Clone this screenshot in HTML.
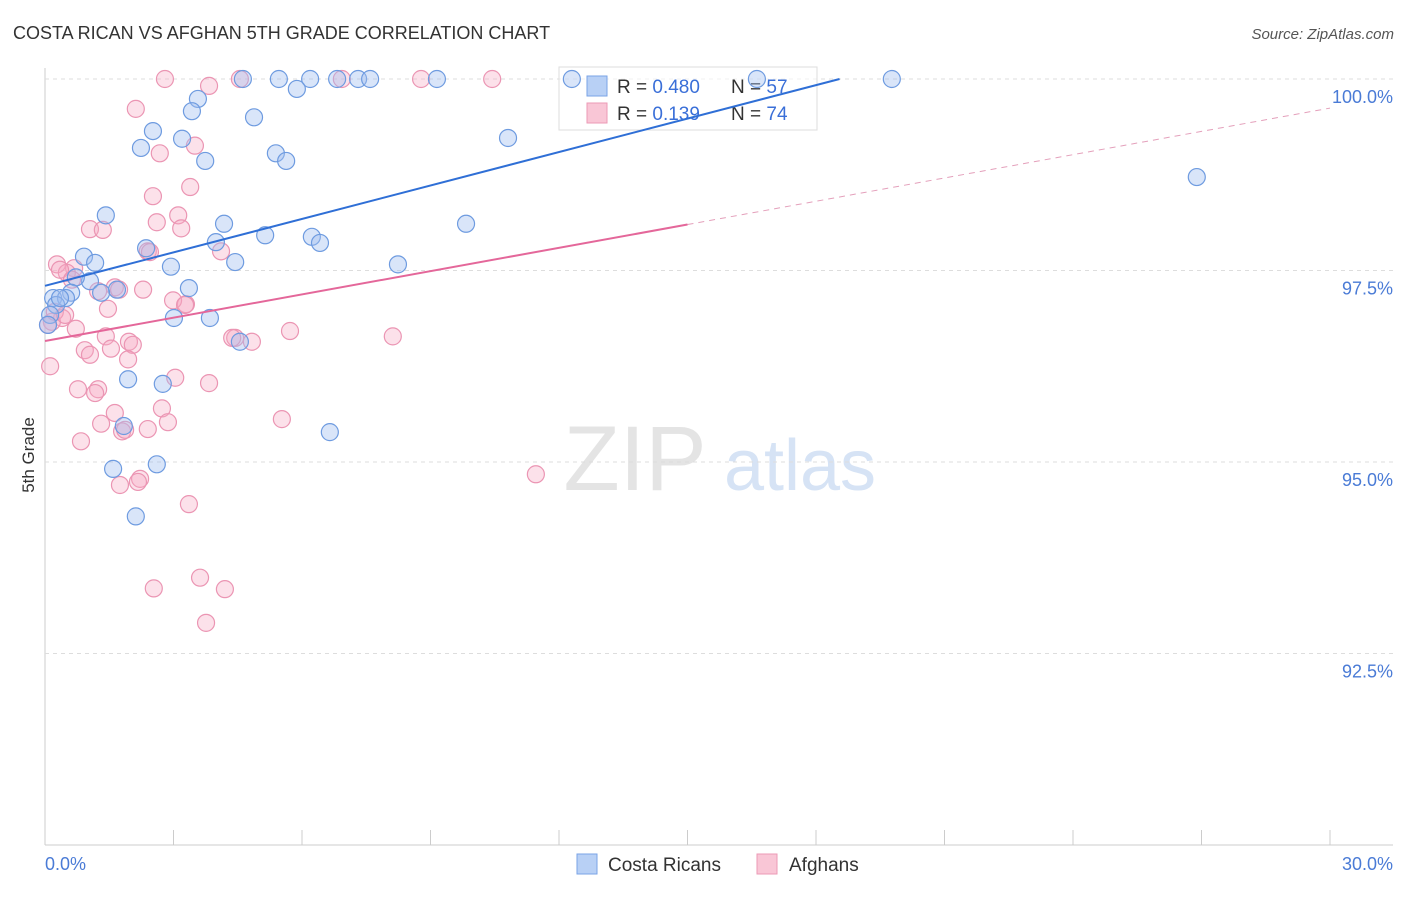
<!DOCTYPE html>
<html><head><meta charset="utf-8"><style>
body{margin:0;background:#fff;font-family:"Liberation Sans",sans-serif}
svg text{font-family:"Liberation Sans",sans-serif}
</style></head><body>
<svg id="chart" width="1406" height="892">
<text x="13" y="39" font-size="18" fill="#333">COSTA RICAN VS AFGHAN 5TH GRADE CORRELATION CHART</text>
<text x="1394" y="39" font-size="15" fill="#555" font-style="italic" text-anchor="end">Source: ZipAtlas.com</text>
<text x="34" y="455" font-size="17" fill="#333" transform="rotate(-90 34 455)" text-anchor="middle">5th Grade</text>
<g><text x="635" y="490" font-size="92" fill="#e4e4e4" font-family="Liberation Serif" text-anchor="middle">ZIP</text><text x="800" y="490" font-size="72" fill="#d6e3f5" text-anchor="middle">atlas</text></g>
<g id="grid"></g>
<g>
<rect x="559" y="67" width="258" height="63" fill="rgba(255,255,255,0.55)" stroke="#ddd"/>
<rect x="587" y="76" width="20" height="20" fill="#b8d0f5" stroke="#7aa3e6"/>
<rect x="587" y="103" width="20" height="20" fill="#f9c6d6" stroke="#ec9ab6"/>
<text x="617" y="93" font-size="19" fill="#333">R = <tspan fill="#3a6fd8">0.480</tspan></text>
<text x="731" y="93" font-size="19" fill="#333">N = <tspan fill="#3a6fd8">57</tspan></text>
<text x="617" y="120" font-size="19" fill="#333">R = <tspan fill="#3a6fd8"> 0.139</tspan></text>
<text x="731" y="120" font-size="19" fill="#333">N = <tspan fill="#3a6fd8">74</tspan></text>
</g>
<g id="marks"></g><g id="lines"></g>
<g>
<rect x="577" y="854" width="20" height="20" fill="#b8d0f5" stroke="#7aa3e6"/>
<text x="608" y="871" font-size="19" fill="#333">Costa Ricans</text>
<rect x="757" y="854" width="20" height="20" fill="#f9c6d6" stroke="#ec9ab6"/>
<text x="789" y="871" font-size="19" fill="#333">Afghans</text>
</g>
</svg>
<script>
const xTicks=[0,3,6,9,12,15,18,21,24,27,30];
const yTicks=[100,97.5,95,92.5];
const yTickLabels=["100.0%","97.5%","95.0%","92.5%"];
const blueX=[12.30,4.62,5.46,6.19,6.82,7.31,7.59,9.15,16.62,19.77,5.88,3.57,3.43,4.88,2.52,3.20,2.24,5.39,5.63,3.74,10.81,26.89,1.42,4.18,9.83,5.14,6.23,6.42,2.36,3.99,0.91,1.17,4.44,2.94,8.24,1.05,0.72,3.36,1.68,1.31,0.61,0.19,0.49,0.26,0.12,3.01,3.85,4.55,1.94,2.75,1.84,6.65,2.61,1.59,2.12,0.07,0.35];
const blueY=[100,100,100,100,100,100,100,100,100,100,99.87,99.74,99.58,99.50,99.32,99.22,99.10,99.03,98.93,98.93,99.23,98.72,98.22,98.11,98.11,97.96,97.94,97.86,97.79,97.87,97.68,97.60,97.61,97.55,97.58,97.36,97.41,97.27,97.25,97.21,97.21,97.14,97.14,97.05,96.92,96.88,96.88,96.57,96.08,96.02,95.47,95.39,94.97,94.91,94.29,96.79,97.14];
const pinkX=[2.80,3.83,4.55,8.78,10.44,6.93,2.12,3.50,2.68,3.39,2.52,3.11,2.61,3.18,1.05,1.35,2.40,4.11,0.28,0.68,0.51,1.24,2.29,1.63,1.73,3.29,2.99,1.47,0.40,0.16,0.07,0.72,1.42,4.44,4.83,5.72,8.12,1.96,2.05,0.93,1.54,1.94,0.12,3.04,3.83,0.77,1.24,1.17,2.73,1.63,5.53,2.87,1.31,1.80,2.40,0.84,11.46,2.22,2.17,1.75,3.36,2.54,3.62,4.20,3.76,0.23,0.47,1.05,4.37,1.87,3.27,2.45,0.35,0.63];
const pinkY=[100,99.91,100,100,100,100,99.61,99.13,99.03,98.59,98.47,98.22,98.13,98.05,98.04,98.03,97.75,97.75,97.58,97.53,97.47,97.23,97.25,97.28,97.25,97.06,97.11,97.00,96.88,96.83,96.79,96.74,96.64,96.62,96.57,96.71,96.64,96.57,96.53,96.46,96.48,96.34,96.25,96.10,96.03,95.95,95.95,95.90,95.70,95.64,95.56,95.52,95.50,95.40,95.43,95.27,94.84,94.78,94.74,94.70,94.45,93.35,93.49,93.34,92.90,96.96,96.92,96.40,96.62,95.42,97.05,97.74,97.51,97.38];
const blueIntercept=97.30, blueSlope=2.7/18.55;
const pinkIntercept=96.58, pinkSlope=(99.62-96.58)/30;
const NS="http://www.w3.org/2000/svg";
const sx=v=>45+v/30*1285, sy=v=>79+(100-v)/10*766;
function mk(t,a,p){const e=document.createElementNS(NS,t);for(const k in a)e.setAttribute(k,a[k]);p.appendChild(e);return e;}
const grid=document.getElementById('grid'),marks=document.getElementById('marks'),lines=document.getElementById('lines');
let ax=mk('line',{x1:45,x2:1393,y1:845,y2:845,stroke:'#ccc'},grid);

let ay=mk('line',{x1:45,x2:45,y1:68,y2:845,stroke:'#ccc'},grid);

xTicks.forEach(t=>{const l=mk('line',{x1:sx(t),x2:sx(t),y1:830,y2:845,stroke:'#ccc'},grid);
});
yTicks.forEach((t,i)=>{const l=mk('line',{x1:45,x2:1393,y1:sy(t),y2:sy(t),stroke:'#ddd','stroke-dasharray':'4,4'},grid);

const tx=mk('text',{x:1393,y:sy(t)+24,'font-size':18,fill:'#4a7bd6','text-anchor':'end'},grid);tx.textContent=yTickLabels[i];
});
let x0=mk('text',{x:45,y:870,'font-size':18,fill:'#4a7bd6'},grid);x0.textContent='0.0%';

let x1=mk('text',{x:1393,y:870,'font-size':18,fill:'#4a7bd6','text-anchor':'end'},grid);x1.textContent='30.0%';

pinkX.forEach((v,i)=>{const c=mk('circle',{cx:sx(v),cy:sy(pinkY[i]),r:8.5,fill:'rgba(246,170,196,0.35)',stroke:'#eb95b3','stroke-width':1.2},marks);
});
blueX.forEach((v,i)=>{const c=mk('circle',{cx:sx(v),cy:sy(blueY[i]),r:8.5,fill:'rgba(160,190,240,0.4)',stroke:'#6e9be0','stroke-width':1.2},marks);
});
const bEnd=(100-blueIntercept)/blueSlope;
let bl=mk('line',{x1:sx(0),y1:sy(blueIntercept),x2:sx(bEnd),y2:sy(100),stroke:'#2f6fd6','stroke-width':2},lines);

let pl=mk('line',{x1:sx(0),y1:sy(pinkIntercept),x2:sx(15),y2:sy(pinkIntercept+15*pinkSlope),stroke:'#e4679a','stroke-width':2},lines);

let pd=mk('line',{x1:sx(15),y1:sy(pinkIntercept+15*pinkSlope),x2:sx(30),y2:sy(pinkIntercept+30*pinkSlope),stroke:'#e4a0bb','stroke-width':1,'stroke-dasharray':'6,5'},lines);

</script>
</body></html>
